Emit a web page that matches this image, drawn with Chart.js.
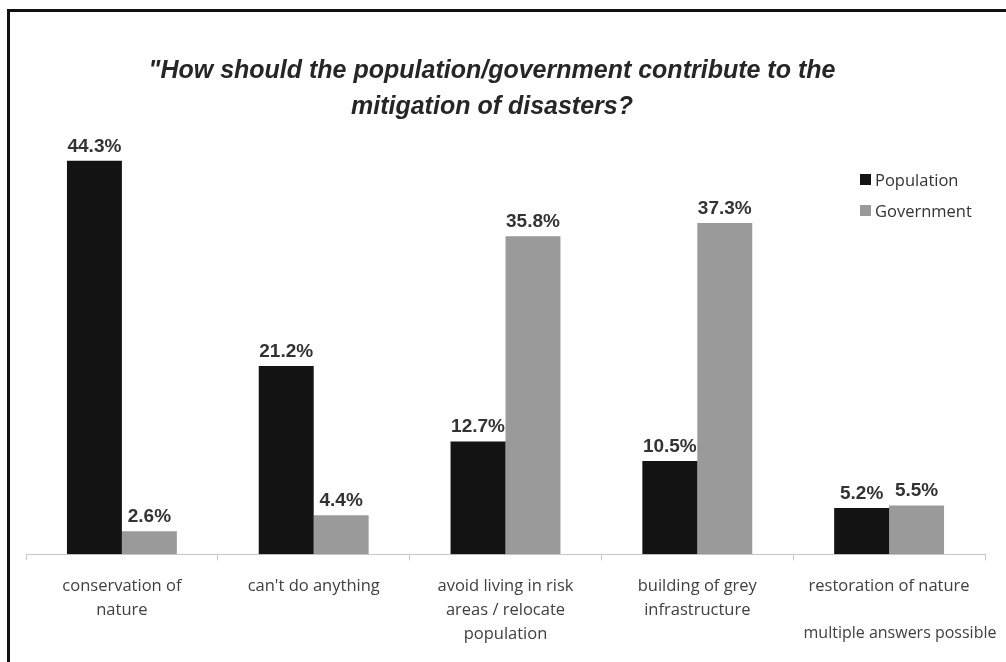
<!DOCTYPE html>
<html>
<head>
  <title>Mitigation of disasters</title>
  <script src="https://cdn.jsdelivr.net/npm/chart.js"></script>
  <style>
    body {
      margin: 0;
      background: white;
      font-family: "Open Sans", sans-serif;
    }

    .frame {
      position: relative;
      width: 1006px;
      height: 662px;
      overflow: hidden;
    }

    .border {
      position: absolute;
      left: 7px;
      top: 9px;
      right: -10px;
      bottom: -10px;
      border-top: 3px solid #111;
      border-left: 3px solid #111;
    }

    .title {
      position: absolute;
      left: 0;
      width: 984px;
      top: 51px;
      text-align: center;
      font-family: "Liberation Sans", Arial, sans-serif;
      font-style: italic;
      font-weight: bold;
      font-size: 25px;
      line-height: 36px;
      color: #262626;
    }

    .legend {
      position: absolute;
      left: 860px;
      top: 164px;
      font-size: 16.5px;
      color: #333;
    }

    .legend div {
      height: 31px;
      display: flex;
      align-items: center;
    }

    .legend span.box {
      display: inline-block;
      width: 11px;
      height: 11px;
      margin-right: 4px;
    }

    .note {
      position: absolute;
      left: 790px;
      width: 220px;
      top: 621px;
      text-align: center;
      font-size: 16px;
      color: #404040;
    }

    canvas {
      position: absolute;
      left: 0;
      top: 0;
    }
  </style>
</head>
<body>
  <div class="frame">
    <canvas id="chart" width="1006" height="662"></canvas>
    <div class="border"></div>
    <div class="title">"How should the population/government contribute to the<br>mitigation of disasters?</div>
    <div class="legend">
      <div><span class="box" style="background:#131313"></span>Population</div>
      <div><span class="box" style="background:#9a9a9a"></span>Government</div>
    </div>
    <div class="note">multiple answers possible</div>
  </div>

  <script>
    const categories = [
      ["conservation of", "nature"],
      ["can't do anything"],
      ["avoid living in risk", "areas / relocate", "population"],
      ["building of grey", "infrastructure"],
      ["restoration of nature"]
    ];
    const population = [44.3, 21.2, 12.7, 10.5, 5.2];
    const government = [2.6, 4.4, 35.8, 37.3, 5.5];

    // percent labels above each bar
    const valueLabels = {
      id: "valueLabels",
      afterDatasetsDraw(chart) {
        const ctx = chart.ctx;
        ctx.save();
        ctx.font = "bold 19px 'Liberation Sans', Arial, sans-serif";
        ctx.fillStyle = "#333";
        ctx.textAlign = "center";
        ctx.textBaseline = "bottom";
        chart.data.datasets.forEach((ds, i) => {
          chart.getDatasetMeta(i).data.forEach((bar, j) => {
            ctx.fillText(ds.data[j].toFixed(1) + "%", bar.x, bar.y - 5);
          });
        });
        ctx.restore();
      }
    };

    new Chart(document.getElementById("chart"), {
      type: "bar",
      data: {
        labels: categories,
        datasets: [
          {
            label: "Population",
            data: population,
            backgroundColor: "#131313",
            categoryPercentage: 0.573,
            barPercentage: 1
          },
          {
            label: "Government",
            data: government,
            backgroundColor: "#9a9a9a",
            categoryPercentage: 0.573,
            barPercentage: 1
          }
        ]
      },
      options: {
        responsive: false,
        animation: false,
        layout: {
          padding: { left: 26, right: 21, top: 128, bottom: 2 }
        },
        plugins: {
          legend: { display: false },
          tooltip: { enabled: false }
        },
        scales: {
          x: {
            grid: {
              offset: true,
              drawOnChartArea: false,
              drawTicks: true,
              tickLength: 6,
              color: "#c8c8c8"
            },
            border: { color: "#c8c8c8" },
            ticks: {
              color: "#404040",
              padding: 14,
              maxRotation: 0,
              font: { family: "'Open Sans', sans-serif", size: 16.5, lineHeight: 1.45 }
            }
          },
          y: {
            display: false,
            min: 0,
            max: 48
          }
        }
      },
      plugins: [valueLabels]
    });
  </script>
</body>
</html>
